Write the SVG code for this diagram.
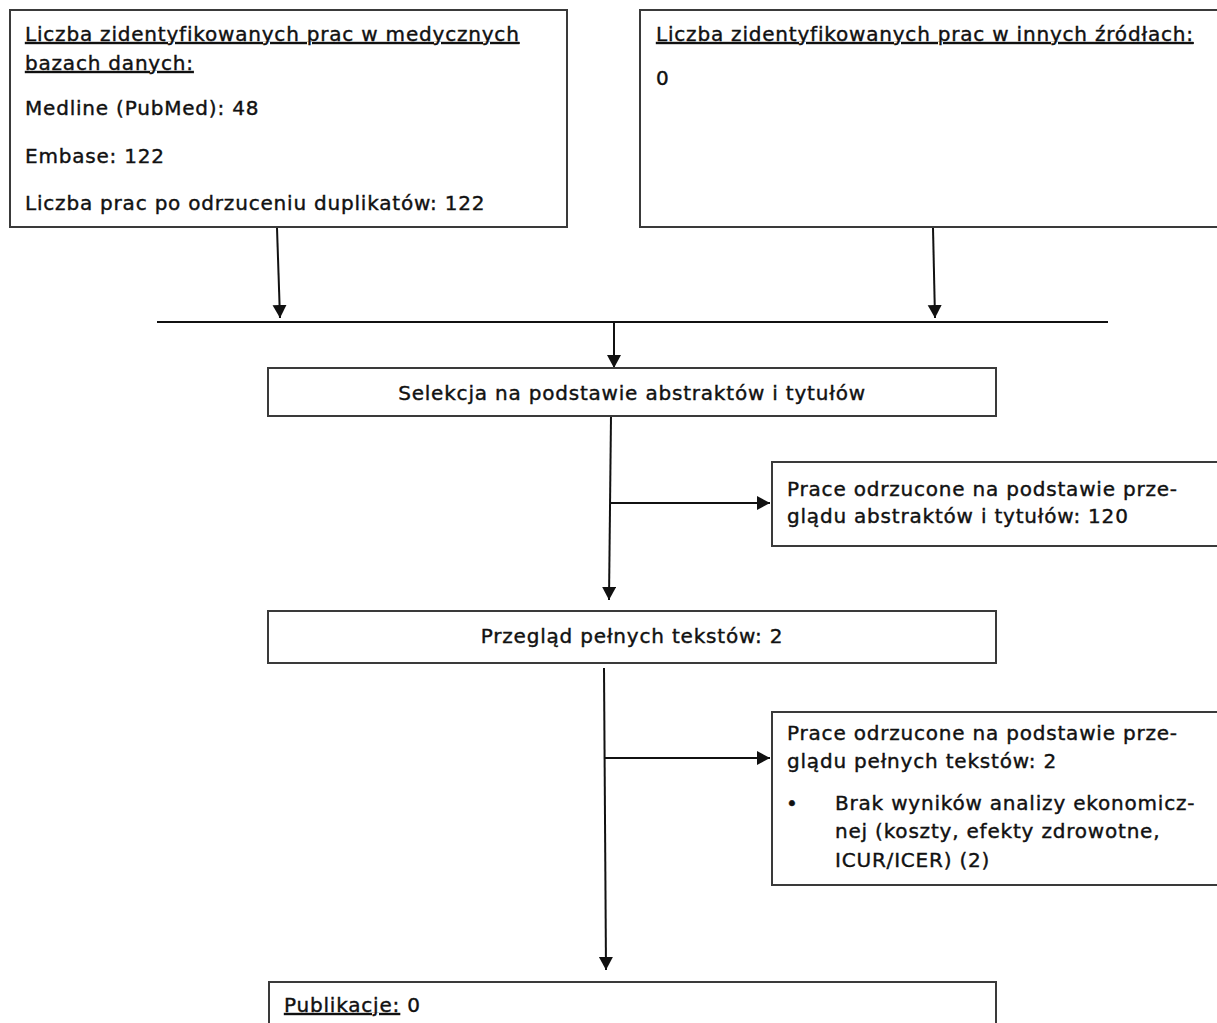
<svg xmlns="http://www.w3.org/2000/svg" width="1217" height="1023" viewBox="0 0 1217 1023">
<defs>
<style>
.box{fill:#fff;stroke:#3a3a3a;stroke-width:2}
.t{font-family:"DejaVu Sans",sans-serif;font-size:20px;letter-spacing:0.8px;fill:#111;stroke:#111;stroke-width:0.4}
.u{text-decoration:underline}
.ln{stroke:#111;stroke-width:2;fill:none}
</style>
<marker id="ah" markerWidth="13" markerHeight="18" refX="13" refY="7" orient="auto" markerUnits="userSpaceOnUse">
<path d="M0,0 L13,7 L0,14 Z" fill="#111"/>
</marker>
</defs>
<rect width="1217" height="1023" fill="#fff"/>
<g id="connectors">
<line class="ln" x1="277" y1="228" x2="280" y2="318" marker-end="url(#ah)"/>
<line class="ln" x1="933" y1="228" x2="935" y2="318" marker-end="url(#ah)"/>
<line class="ln" x1="157" y1="322" x2="1108" y2="322"/>
<line class="ln" x1="614" y1="322" x2="614" y2="368" marker-end="url(#ah)"/>
<line class="ln" x1="611" y1="416" x2="609" y2="600" marker-end="url(#ah)"/>
<line class="ln" x1="611" y1="503" x2="770" y2="503" marker-end="url(#ah)"/>
<line class="ln" x1="604" y1="668" x2="606" y2="970" marker-end="url(#ah)"/>
<line class="ln" x1="605" y1="758" x2="770" y2="758" marker-end="url(#ah)"/>
</g>
<g id="box1">
<rect class="box" x="10" y="10" width="557" height="217"/>
<text class="t u" x="25" y="41">Liczba zidentyfikowanych prac w medycznych</text>
<text class="t u" x="25" y="70">bazach danych:</text>
<text class="t" x="25" y="115">Medline (PubMed): 48</text>
<text class="t" x="25" y="163">Embase: 122</text>
<text class="t" x="25" y="210">Liczba prac po odrzuceniu duplikatów: 122</text>
</g>
<g id="box2">
<rect class="box" x="640" y="10" width="580" height="217"/>
<text class="t u" x="656" y="41">Liczba zidentyfikowanych prac w innych źródłach:</text>
<text class="t" x="656" y="85">0</text>
</g>
<g id="box3">
<rect class="box" x="268" y="368" width="728" height="48"/>
<text class="t" x="632" y="400" text-anchor="middle">Selekcja na podstawie abstraktów i tytułów</text>
</g>
<g id="box4">
<rect class="box" x="772" y="462" width="450" height="84"/>
<text class="t" x="787" y="496">Prace odrzucone na podstawie prze-</text>
<text class="t" x="787" y="523">glądu abstraktów i tytułów: 120</text>
</g>
<g id="box5">
<rect class="box" x="268" y="611" width="728" height="52"/>
<text class="t" x="632" y="643" text-anchor="middle">Przegląd pełnych tekstów: 2</text>
</g>
<g id="box6">
<rect class="box" x="772" y="712" width="450" height="173"/>
<text class="t" x="787" y="740">Prace odrzucone na podstawie prze-</text>
<text class="t" x="787" y="768">glądu pełnych tekstów: 2</text>
<text class="t" x="786" y="810">•</text>
<text class="t" x="835" y="810">Brak wyników analizy ekonomicz-</text>
<text class="t" x="835" y="838">nej (koszty, efekty zdrowotne,</text>
<text class="t" x="835" y="867">ICUR/ICER) (2)</text>
</g>
<g id="box7">
<rect class="box" x="269" y="982" width="727" height="60"/>
<text class="t" x="284" y="1012"><tspan class="u">Publikacje:</tspan> 0</text>
</g>
</svg>
